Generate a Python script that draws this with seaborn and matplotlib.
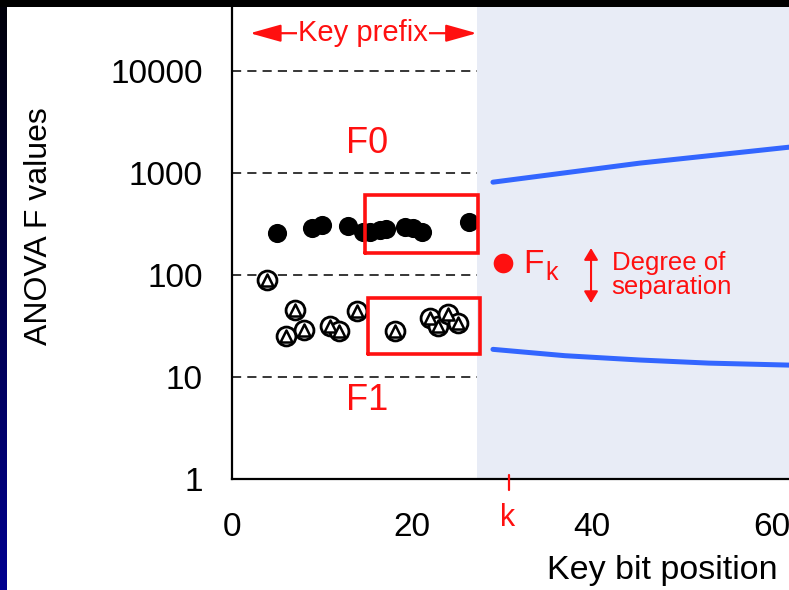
import numpy as np
import pandas as pd
import matplotlib
matplotlib.use("Agg")
import matplotlib.pyplot as plt
import matplotlib.transforms as mtransforms
from matplotlib.colors import LinearSegmentedColormap
import seaborn as sns

# ---- data -------------------------------------------------------------
# F0 group (filled markers): key bit position vs ANOVA F value
f0_bits = [5.0, 8.9, 10.0, 12.9, 14.6, 15.3, 16.4, 17.1, 19.2, 20.1, 21.1, 26.3]
f0_vals = [260, 291, 309, 304, 266, 266, 276, 282, 298, 287, 266, 333]

# F1 group (open markers)
f1_bits = [3.9, 7.0, 6.0, 8.0, 10.9, 11.9, 13.9, 18.1, 22.0, 22.9, 24.0, 25.1]
f1_vals = [89, 45, 25, 29, 32, 28, 44, 28, 38, 32, 42, 34]

# projected trends beyond the key prefix
upper_x = [29.0, 45.3, 61.9]
upper_y = [816, 1254, 1798]
lower_x = [29.0, 37.0, 45.3, 53.0, 61.9]
lower_y = [18.7, 16.2, 14.7, 13.7, 13.1]

# F_k point
fk_bit = [30.1]
fk_val = [131]

ytick_vals = [1, 10, 100, 1000, 10000]
ytick_labels = ["1", "10", "100", "1000", "10000"]
xtick_vals = [0, 20, 40, 60]
xtick_labels = ["0", "20", "40", "60"]

prefix_end = 27.2
k_pos = 30.8

# ---- style ------------------------------------------------------------
sns.set_style("white")
plt.rcParams["font.family"] = ["Liberation Sans", "DejaVu Sans"]

RED = "#FF1010"
BLUE = "#3366FF"
SHADE = "#E8ECF6"

fig = plt.figure(figsize=(7.89, 5.90), dpi=100)
fig.patch.set_facecolor("white")

# slide frame: dark strip on the left, black band on top
strip = fig.add_axes([0, 0, 7 / 789, 1])
grad = np.linspace(0, 1, 256).reshape(-1, 1)
cmap = LinearSegmentedColormap.from_list("frame", ["#000008", "#000090"])
strip.imshow(grad, aspect="auto", cmap=cmap, origin="upper")
strip.set_axis_off()
band = fig.add_axes([0, 1 - 7 / 590, 1, 7 / 590])
band.set_facecolor("black")
band.set_xticks([]); band.set_yticks([])
for s in band.spines.values():
    s.set_visible(False)

ax = fig.add_axes([232 / 789, 111 / 590, (789 - 232) / 789, (479 - 7) / 590])
ax.set_yscale("log")
ax.set_xlim(0, 61.9)
ax.set_ylim(1, 10 ** 4.63)
ax.set_facecolor("white")

# shaded region beyond the key prefix
ax.axvspan(prefix_end, 70, color=SHADE, zorder=0, lw=0)

# dashed reference lines within the prefix
ax.hlines([10, 100, 1000, 10000], 0, prefix_end, colors="black",
          linestyles=(0, (6, 4)), linewidth=1.1, zorder=1)

# F0 points
df0 = pd.DataFrame({"bit": f0_bits, "F": f0_vals})
sns.scatterplot(data=df0, x="bit", y="F", ax=ax, color="black", s=190,
                marker="o", edgecolor="black", linewidth=0, zorder=3)

# F1 points: open circle with a triangle inside
df1 = pd.DataFrame({"bit": f1_bits, "F": f1_vals})
sns.scatterplot(data=df1, x="bit", y="F", ax=ax, s=185, marker="o",
                facecolor="white", edgecolor="black", linewidth=2.0, zorder=3)
sns.scatterplot(data=df1, x="bit", y="F", ax=ax, s=75, marker="^",
                facecolor="white", edgecolor="black", linewidth=1.8, zorder=4)

# trend lines
sns.lineplot(x=upper_x, y=upper_y, ax=ax, color=BLUE, linewidth=3.6, zorder=2)
sns.lineplot(x=lower_x, y=lower_y, ax=ax, color=BLUE, linewidth=3.6, zorder=2)

# F_k point
sns.scatterplot(x=fk_bit, y=fk_val, ax=ax, color=RED, s=200,
                linewidth=0, zorder=5)

# highlight boxes
for (x0, x1, y0, y1) in [(14.8, 27.3, 164, 609), (15.1, 27.6, 16.8, 59.5)]:
    ax.plot([x0, x1, x1, x0, x0], [y0, y0, y1, y1, y0], color=RED,
            linewidth=2.6, zorder=6, solid_joinstyle="miter")

# axes styling
for side in ("top", "right"):
    ax.spines[side].set_visible(False)
for side in ("left", "bottom"):
    ax.spines[side].set_color("black")
    ax.spines[side].set_linewidth(1.6)
ax.set_yticks(ytick_vals)
ax.set_yticklabels(ytick_labels)
ax.set_xticks(xtick_vals)
ax.set_xticklabels(xtick_labels)
ax.minorticks_off()
ax.tick_params(axis="y", which="major", direction="out", length=9, width=1.6,
               pad=12, labelsize=24, colors="black")
ax.tick_params(axis="x", which="major", direction="out", length=9, width=1.6,
               pad=15, labelsize=24, colors="black")

ax.set_xlabel("Key bit position", fontsize=24.5, color="black")
ax.xaxis.set_label_coords(0.772, -0.162)
ax.set_ylabel("ANOVA F values", fontsize=23, color="black")
ax.yaxis.set_label_coords(-0.32, 0.535)

# annotations
ax.text(15.0, 1970, "F0", color=RED, fontsize=26, ha="center", va="center")
ax.text(15.0, 5.95, "F1", color=RED, fontsize=26, ha="center", va="center")
ax.text(32.4, 104.7, "F", color=RED, fontsize=24, ha="left", va="baseline")
ax.text(34.8, 89, "k", color=RED, fontsize=18, ha="left", va="baseline")

ax.annotate("", xy=(39.9, 184), xytext=(39.9, 53.2),
            arrowprops=dict(arrowstyle="<|-|>,head_length=0.5,head_width=0.3",
                            color=RED, lw=1.5, mutation_scale=14,
                            shrinkA=0, shrinkB=0))
ax.text(42.2, 100, "Degree of\nseparation", color=RED, fontsize=18.5,
        ha="left", va="center", linespacing=1.0)

# key prefix span
ax.annotate("", xy=(2.0, 23600), xytext=(prefix_end, 23600),
            arrowprops=dict(arrowstyle="<|-|>,head_length=1.0,head_width=0.28",
                            color=RED, lw=1.6, mutation_scale=19,
                            shrinkA=0, shrinkB=0), zorder=6)
ax.text(14.6, 23600, "Key prefix", color=RED, fontsize=21, ha="center",
        va="center", zorder=7,
        bbox=dict(boxstyle="square,pad=0.04", facecolor="white",
                  edgecolor="none"))

# k marker on the axis
trans = mtransforms.blended_transform_factory(ax.transData, ax.transAxes)
ax.plot([k_pos, k_pos], [-0.023, 0.009], color=RED, linewidth=1.6,
        transform=trans, clip_on=False, zorder=7)
ax.text(k_pos - 0.2, -0.083, "k", color=RED, fontsize=22, ha="center",
        va="center", transform=trans)

fig.savefig("out.png", dpi=100)
